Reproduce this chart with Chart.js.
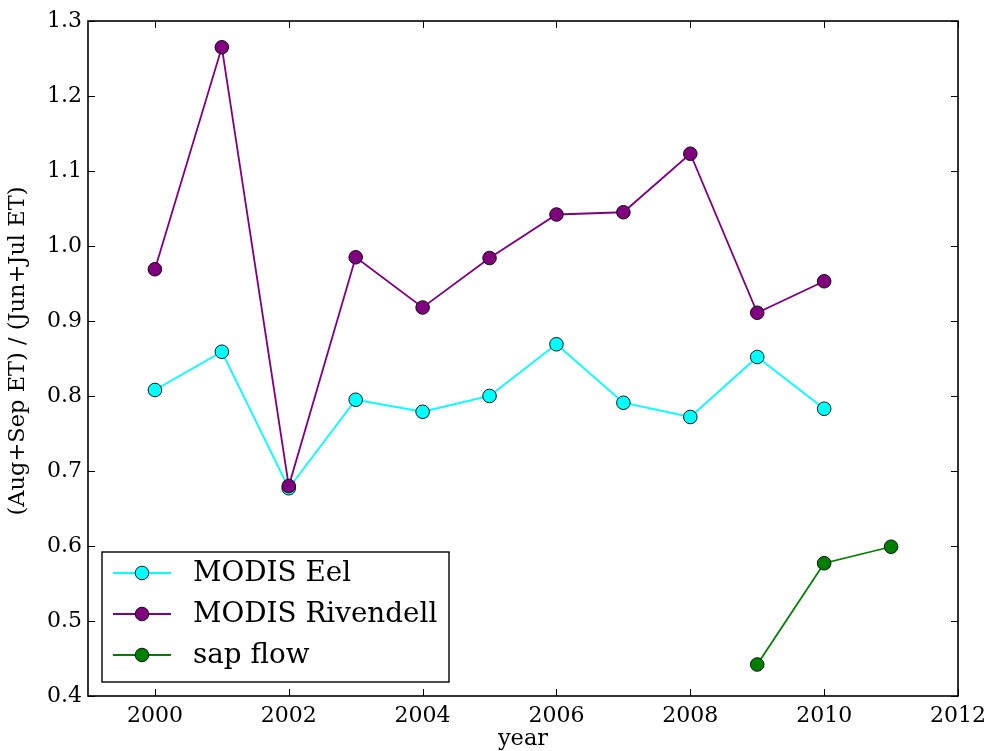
<!DOCTYPE html>
<html>
<head>
<meta charset="utf-8">
<script src="https://cdn.jsdelivr.net/npm/chart.js@4/dist/chart.umd.min.js"></script>
<style>
  html, body { margin: 0; padding: 0; background: #ffffff; }
  #wrap { width: 993px; height: 751px; }
</style>
</head>
<body>
<div id="wrap"><canvas id="c" width="993" height="751"></canvas></div>
<script>
// Late-summer / early-summer ET ratio per year
const years = [2000, 2001, 2002, 2003, 2004, 2005, 2006, 2007, 2008, 2009, 2010];
const modisEel = [0.808, 0.859, 0.677, 0.795, 0.779, 0.800, 0.869, 0.791, 0.772, 0.852, 0.783];
const modisRivendell = [0.969, 1.265, 0.680, 0.985, 0.918, 0.984, 1.042, 1.045, 1.123, 0.911, 0.953];
const sapYears = [2009, 2010, 2011];
const sapFlow = [0.442, 0.577, 0.599];

const xTicks = [2000, 2002, 2004, 2006, 2008, 2010, 2012];
const yTicks = [0.4, 0.5, 0.6, 0.7, 0.8, 0.9, 1.0, 1.1, 1.2, 1.3];
const seriesNames = ['MODIS Eel', 'MODIS Rivendell', 'sap flow'];

const FONT = '"DejaVu Serif", "Liberation Serif", serif';
const FS = 22;         // tick labels
const FS_TITLE = 22.5; // axis titles
const FS_LEG = 27.8;   // legend entries

function pts(xs, ys) { return xs.map((x, i) => ({ x: x, y: ys[i] })); }

function series(label, data, color, order) {
  return {
    label: label,
    data: data,
    borderColor: color,
    backgroundColor: color,
    pointBackgroundColor: color,
    pointBorderColor: '#000000',
    pointBorderWidth: 0.9,
    pointRadius: 6.8,
    pointHoverRadius: 6.8,
    borderWidth: 1.8,
    tension: 0,
    fill: false,
    order: order
  };
}

// Box, inward ticks on all sides, axis titles and legend
const frame = {
  id: 'frame',
  afterDatasetsDraw(chart) {
    const ctx = chart.ctx;
    const a = chart.chartArea;
    const xs = chart.scales.x, ys = chart.scales.y;
    const TL = 7;
    ctx.save();
    ctx.strokeStyle = '#000000';
    ctx.lineWidth = 1;
    ctx.beginPath();
    xTicks.forEach(v => {
      const px = Math.round(xs.getPixelForValue(v)) + 0.5;
      ctx.moveTo(px, a.bottom); ctx.lineTo(px, a.bottom - TL);
      ctx.moveTo(px, a.top); ctx.lineTo(px, a.top + TL);
    });
    yTicks.forEach(v => {
      const py = Math.round(ys.getPixelForValue(v)) + 0.5;
      ctx.moveTo(a.left, py); ctx.lineTo(a.left + TL, py);
      ctx.moveTo(a.right, py); ctx.lineTo(a.right - TL, py);
    });
    ctx.stroke();

    ctx.lineWidth = 1.6;
    ctx.strokeRect(a.left, a.top, a.right - a.left, a.bottom - a.top);

    // axis titles
    ctx.fillStyle = '#000000';
    ctx.font = FS_TITLE + 'px ' + FONT;
    ctx.textAlign = 'center';
    ctx.textBaseline = 'alphabetic';
    ctx.fillText('year', (a.left + a.right) / 2, 745);
    ctx.save();
    ctx.translate(24, 351);
    ctx.rotate(-Math.PI / 2);
    ctx.fillText('(Aug+Sep ET) / (Jun+Jul ET)', 0, 0);
    ctx.restore();

    // legend
    const bx = 102, by = 552, bw = 347, bh = 130;
    ctx.fillStyle = '#ffffff';
    ctx.fillRect(bx, by, bw, bh);
    ctx.lineWidth = 1.4;
    ctx.strokeStyle = '#000000';
    ctx.strokeRect(bx, by, bw, bh);
    const rows = [573, 614, 655];
    seriesNames.forEach((name, i) => {
      const ds = chart.data.datasets[i];
      const ry = rows[i];
      ctx.strokeStyle = ds.borderColor;
      ctx.lineWidth = ds.borderWidth;
      ctx.beginPath();
      ctx.moveTo(113, ry); ctx.lineTo(171, ry);
      ctx.stroke();
      ctx.beginPath();
      ctx.arc(142, ry, ds.pointRadius, 0, Math.PI * 2);
      ctx.fillStyle = ds.pointBackgroundColor;
      ctx.fill();
      ctx.lineWidth = ds.pointBorderWidth;
      ctx.strokeStyle = '#000000';
      ctx.stroke();
      ctx.fillStyle = '#000000';
      ctx.textAlign = 'left';
      ctx.textBaseline = 'middle';
      ctx.font = FS_LEG + 'px ' + FONT;
      ctx.fillText(name, 193, ry + 1);
    });
    ctx.restore();
  }
};

new Chart(document.getElementById('c'), {
  type: 'line',
  data: {
    datasets: [
      series(seriesNames[0], pts(years, modisEel), '#00ffff', 3),
      series(seriesNames[1], pts(years, modisRivendell), '#800080', 2),
      series(seriesNames[2], pts(sapYears, sapFlow), '#008000', 1)
    ]
  },
  options: {
    responsive: false,
    animation: false,
    devicePixelRatio: 1,
    layout: { padding: { top: 21, right: 34, left: 0, bottom: 0 } },
    plugins: { legend: { display: false }, tooltip: { enabled: false } },
    scales: {
      x: {
        type: 'linear',
        min: 1999,
        max: 2012,
        grid: { display: false, drawTicks: false },
        border: { display: false },
        afterBuildTicks(s) { s.ticks = xTicks.map(v => ({ value: v })); },
        afterFit(s) { s.height = 55; },
        ticks: {
          padding: 7,
          maxRotation: 0,
          autoSkip: false,
          color: '#000000',
          font: { family: FONT, size: FS },
          callback: v => String(v)
        }
      },
      y: {
        type: 'linear',
        min: 0.4,
        max: 1.3,
        grid: { display: false, drawTicks: false },
        border: { display: false },
        afterBuildTicks(s) { s.ticks = yTicks.map(v => ({ value: v })); },
        afterFit(s) { s.width = 88; },
        ticks: {
          padding: 6,
          autoSkip: false,
          color: '#000000',
          font: { family: FONT, size: FS },
          callback: v => Number(v).toFixed(1)
        }
      }
    }
  },
  plugins: [frame]
});
</script>
</body>
</html>
